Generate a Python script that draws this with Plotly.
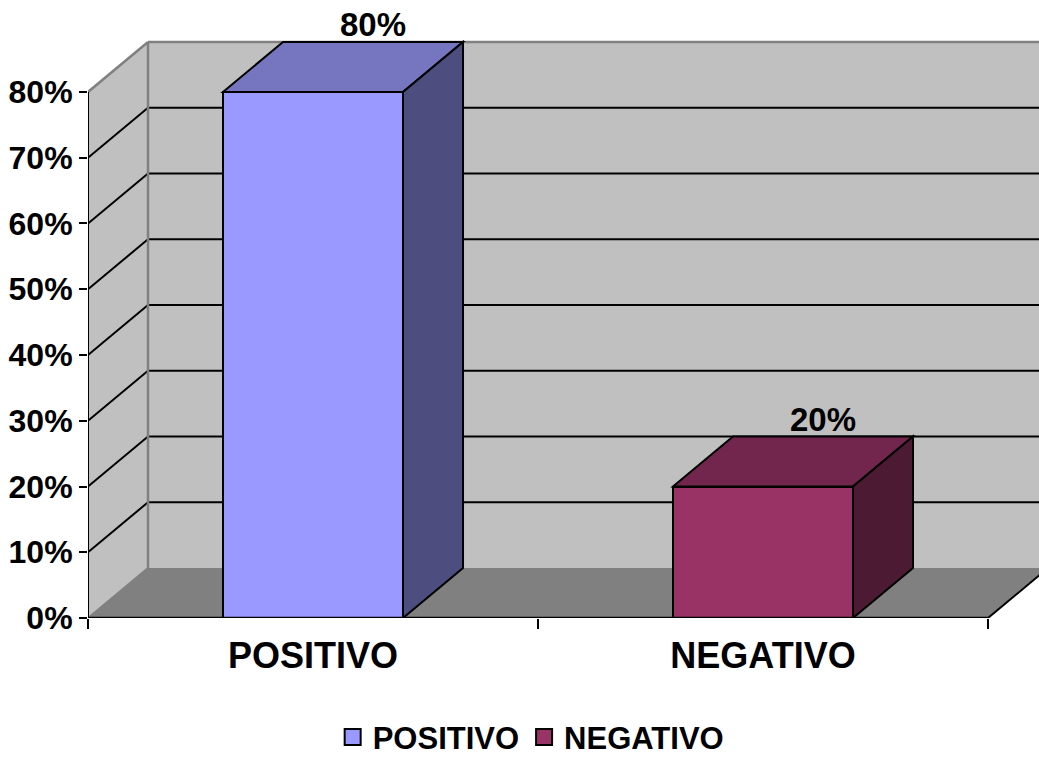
import plotly.graph_objects as go

# ---- data ----
categories = ["POSITIVO", "NEGATIVO"]
values = [80, 20]
front_colors = ["#9999FF", "#993366"]
top_colors = ["#7676C0", "#73264D"]
side_colors = ["#4D4D80", "#4D1A33"]
y_ticks = [0, 10, 20, 30, 40, 50, 60, 70, 80]
y_tick_labels = [f"{t}%" for t in y_ticks]

# ---- pseudo-3D styling constants ----
BAR_W = 0.4
DX = 60 / 450.0          # depth offset in category units
DY = 50 / 6.575          # depth offset in percent units
YMAX_WALL = 80
X_LO, X_HI = -0.5, 1.6133
Y_LO, Y_HI = 0, 93.99

FONT = "Liberation Sans, Arial, sans-serif"

fig = go.Figure()

for i, (cat, v) in enumerate(zip(categories, values)):
    fig.add_trace(go.Bar(
        x=[i], y=[v], width=BAR_W, name=cat, showlegend=False,
        marker=dict(color=front_colors[i], line=dict(color="black", width=2)),
        hoverinfo="skip",
    ))
# legend entries
for i, cat in enumerate(categories):
    fig.add_trace(go.Scatter(
        x=[None], y=[None], name=cat, mode="markers",
        marker=dict(symbol="square", size=16, color=front_colors[i],
                    line=dict(color="black", width=2)),
    ))

shapes = []
gray = "#808080"
# back wall
shapes.append(dict(type="rect", xref="x", yref="y", layer="below",
                   x0=X_LO + DX, x1=X_HI, y0=DY, y1=YMAX_WALL + DY,
                   fillcolor="#C0C0C0", line=dict(width=0)))
# left wall
shapes.append(dict(type="path", xref="x", yref="y", layer="below",
                   path=f"M{X_LO},0 L{X_LO},{YMAX_WALL} L{X_LO+DX},{YMAX_WALL+DY} L{X_LO+DX},{DY} Z",
                   fillcolor="#C0C0C0", line=dict(width=0)))
# floor
shapes.append(dict(type="path", xref="x", yref="y", layer="below",
                   path=f"M{X_LO},0 L1.5,0 L{1.5+DX},{DY} L{X_LO+DX},{DY} Z",
                   fillcolor=gray, line=dict(width=0)))
# gridlines
for t in y_ticks[1:-1]:
    shapes.append(dict(type="line", xref="x", yref="y", layer="below",
                       x0=X_LO, y0=t, x1=X_LO + DX, y1=t + DY,
                       line=dict(color="black", width=2)))
    shapes.append(dict(type="line", xref="x", yref="y", layer="below",
                       x0=X_LO + DX, y0=t + DY, x1=X_HI, y1=t + DY,
                       line=dict(color="black", width=2)))
# wall edges (gray)
shapes.append(dict(type="line", xref="x", yref="y", layer="below",
                   x0=X_LO, y0=YMAX_WALL, x1=X_LO + DX, y1=YMAX_WALL + DY,
                   line=dict(color=gray, width=2.5)))
shapes.append(dict(type="line", xref="x", yref="y", layer="below",
                   x0=X_LO + DX, y0=YMAX_WALL + DY, x1=X_HI, y1=YMAX_WALL + DY,
                   line=dict(color=gray, width=2.5)))
shapes.append(dict(type="line", xref="x", yref="y", layer="below",
                   x0=X_LO + DX, y0=DY, x1=X_LO + DX, y1=YMAX_WALL + DY,
                   line=dict(color=gray, width=2.5)))
shapes.append(dict(type="line", xref="x", yref="y", layer="below",
                   x0=X_LO, y0=0, x1=X_LO + DX, y1=DY,
                   line=dict(color=gray, width=2)))
# floor right edge
shapes.append(dict(type="line", xref="x", yref="y", layer="below",
                   x0=1.5, y0=0, x1=1.5 + DX, y1=DY,
                   line=dict(color="black", width=2)))

# bar top and side faces
for i, v in enumerate(values):
    l, r = i - BAR_W / 2, i + BAR_W / 2
    shapes.append(dict(type="path", xref="x", yref="y",
                       path=f"M{l},{v} L{r},{v} L{r+DX},{v+DY} L{l+DX},{v+DY} Z",
                       fillcolor=top_colors[i], line=dict(color="black", width=2)))
    shapes.append(dict(type="path", xref="x", yref="y",
                       path=f"M{r},0 L{r},{v} L{r+DX},{v+DY} L{r+DX},{DY} Z",
                       fillcolor=side_colors[i], line=dict(color="black", width=2)))

# axis lines
shapes.append(dict(type="line", xref="x", yref="y",
                   x0=X_LO, y0=0, x1=X_LO, y1=YMAX_WALL,
                   line=dict(color="black", width=2)))
shapes.append(dict(type="line", xref="x", yref="y",
                   x0=X_LO, y0=0, x1=1.5, y1=0,
                   line=dict(color="black", width=2.5)))

annotations = []
for i, v in enumerate(values):
    annotations.append(dict(x=i + DX, y=v + DY, xref="x", yref="y",
                            text=f"{v}%", showarrow=False, yanchor="bottom",
                            yshift=-3,
                            font=dict(family=FONT, size=33, color="black", weight="bold")))

fig.update_layout(
    width=1039, height=757,
    margin=dict(l=88, r=0, t=0, b=139, autoexpand=False),
    paper_bgcolor="white", plot_bgcolor="white",
    shapes=shapes, annotations=annotations,
    showlegend=True,
    legend=dict(orientation="h", x=0.466, xanchor="center", y=-0.193, yanchor="middle",
                font=dict(family=FONT, size=31, color="black", weight="bold"),
                itemsizing="trace", traceorder="normal", itemwidth=30,
                bgcolor="rgba(0,0,0,0)"),
    bargap=0,
    xaxis=dict(range=[X_LO, X_HI], tickvals=[0, 1], ticktext=categories,
               ticks="", showgrid=False, zeroline=False, showline=False,
               tickfont=dict(family=FONT, size=36, color="black", weight="bold"),
               ticklabelstandoff=13),
    xaxis2=dict(range=[X_LO, X_HI], overlaying="x", anchor="y", side="bottom",
                tickvals=[-0.5, 0.5, 1.5], ticks="outside", ticklen=10, tickwidth=2,
                tickcolor="black", showticklabels=False, showgrid=False,
                zeroline=False, showline=False),
    yaxis=dict(range=[Y_LO, Y_HI], tickvals=y_ticks, ticktext=y_tick_labels,
               ticks="outside", ticklen=8, tickwidth=2, tickcolor="black",
               showgrid=False, zeroline=False, showline=False,
               tickfont=dict(family=FONT, size=32, color="black", weight="bold")),
)
# invisible anchor trace so that xaxis2 (boundary tick marks) renders
fig.add_trace(go.Scatter(x=[X_LO], y=[0], xaxis="x2", mode="markers",
                         marker=dict(opacity=0), showlegend=False, hoverinfo="skip"))

fig.write_html("out.html")
